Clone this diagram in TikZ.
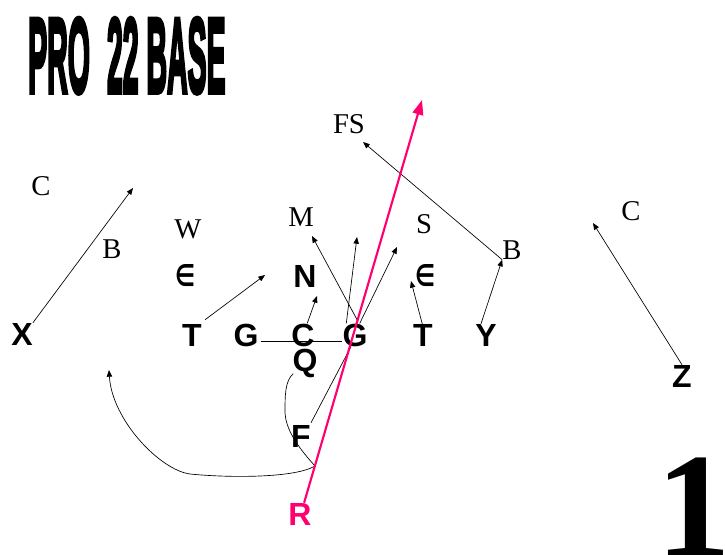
\documentclass[tikz,border=0pt]{standalone}
\usepackage{fontspec}
\setmainfont{Liberation Serif}
\newfontfamily\offfont{Liberation Sans}
\newfontfamily\titlefont{Liberation Sans}[FakeBold=5,BoldFeatures={FakeBold=5}]
\newfontfamily\symfont{DejaVu Sans}
\usetikzlibrary{arrows.meta,calc}
\definecolor{runpink}{RGB}{255,0,110}
\tikzset{
  offp/.style={inner sep=0pt, font=\offfont\bfseries\fontsize{24}{24}\selectfont},
  defp/.style={inner sep=0pt, font=\fontsize{21.5}{21.5}\selectfont},
  endp/.style={inner sep=0pt},
  route/.style={line width=0.5pt, -{Triangle[length=5pt,width=4pt]}},
  plainline/.style={line width=0.5pt},
  runline/.style={line width=1.6pt, runpink, -{Triangle[length=11pt,width=8pt]}}
}
\newcommand{\dlsym}{\resizebox{15pt}{16.5pt}{\symfont\bfseries ∈}}
\begin{document}
\begin{tikzpicture}[x=0.75pt,y=-0.75pt]
\useasboundingbox (0,0) rectangle (725,554);
% title
\node[anchor=north west, inner sep=0pt] (title) at (28,18)
  {\resizebox{148pt}{55.5pt}{\titlefont\bfseries PRO\hspace{0.6em}22 BASE}};
\node[anchor=base, inner sep=0pt, font=\bfseries\fontsize{112}{112}\selectfont] (one) at (694,556) {1};
% offense
\node[offp] (X) at (22,334) {X};
\node[offp] (T1) at (192,335) {T};
\node[offp] (G1) at (246,335) {G};
\node[offp] (C) at (303,335) {C};
\node[offp] (G2) at (355,335) {G};
\node[offp] (T2) at (423,335) {T};
\node[offp] (Y) at (486,335) {Y};
\node[offp] (Q) at (305,363) {Q};
\node[offp] (F) at (301,436) {F};
\node[offp] (Z) at (682,376) {Z};
\node[offp, text=runpink] (R) at (300,514) {R};
% defense
\node[endp] (E1) at (185,276) {\dlsym};
\node[endp] (E2) at (425,276) {\dlsym};
\node[offp] (N) at (305,276) {N};
\node[defp] (CL) at (41,186) {C};
\node[defp] (BL) at (112,249) {B};
\node[defp] (W) at (188,229) {W};
\node[defp] (M) at (301,217) {M};
\node[defp] (FS) at (349,124) {FS};
\node[defp] (S) at (424,224) {S};
\node[defp] (BR) at (512,250) {B};
\node[defp] (CR) at (631,211) {C};
% route tips
\coordinate (xt) at (133,188);
\coordinate (t1t) at (265,275);
\coordinate (ct) at (317,296);
\coordinate (g2a) at (312,236);
\coordinate (g2b) at (357,237);
\coordinate (g2c) at (397,247);
\coordinate (t2t) at (411,281);
\coordinate (bt) at (363,142);
\coordinate (zt) at (593,223);
\coordinate (qt) at (109,370);
\coordinate (rt) at (422,100);
% routes
\draw[route] (X.north east) -- (xt);
\draw[route] (T1.north east) ++(3,-4) -- (t1t);
\draw[route] (C.70) -- (ct);
\draw[route] (G2.north) ++(3,-2) -- (g2a);
\draw[route] (G2.north west) ++(4,0) -- (g2b);
\draw[route] (G2.north east) ++(-8,0) -- (g2c);
\draw[route] (T2.north) ++(0,3) -- (t2t);
\draw[route] (Y.north) ++(-5,0) -- (BR.south west);
\draw[route] (BR.south west) -- (bt);
\draw[route] (Z.north) -- (zt);
\draw[plainline] ($(G1.south east)+(2,-5)$) -- ($(G2.south west)+(0,-5)$);
\draw[plainline] (F.north east) ++(0,-2) -- ($(G2.south)+(-4,0)$);
\draw[route] (Q.south west) ++(1,-4) .. controls (285,381) and (285,395) .. (285,413)
  .. controls (286,428) and (295,444) .. (315,466)
  .. controls (295,478) and (230,478) .. (190,474)
  .. controls (160,470) and (112,420) .. (qt);
\draw[runline] (R.70) -- (rt);
\end{tikzpicture}
\end{document}
